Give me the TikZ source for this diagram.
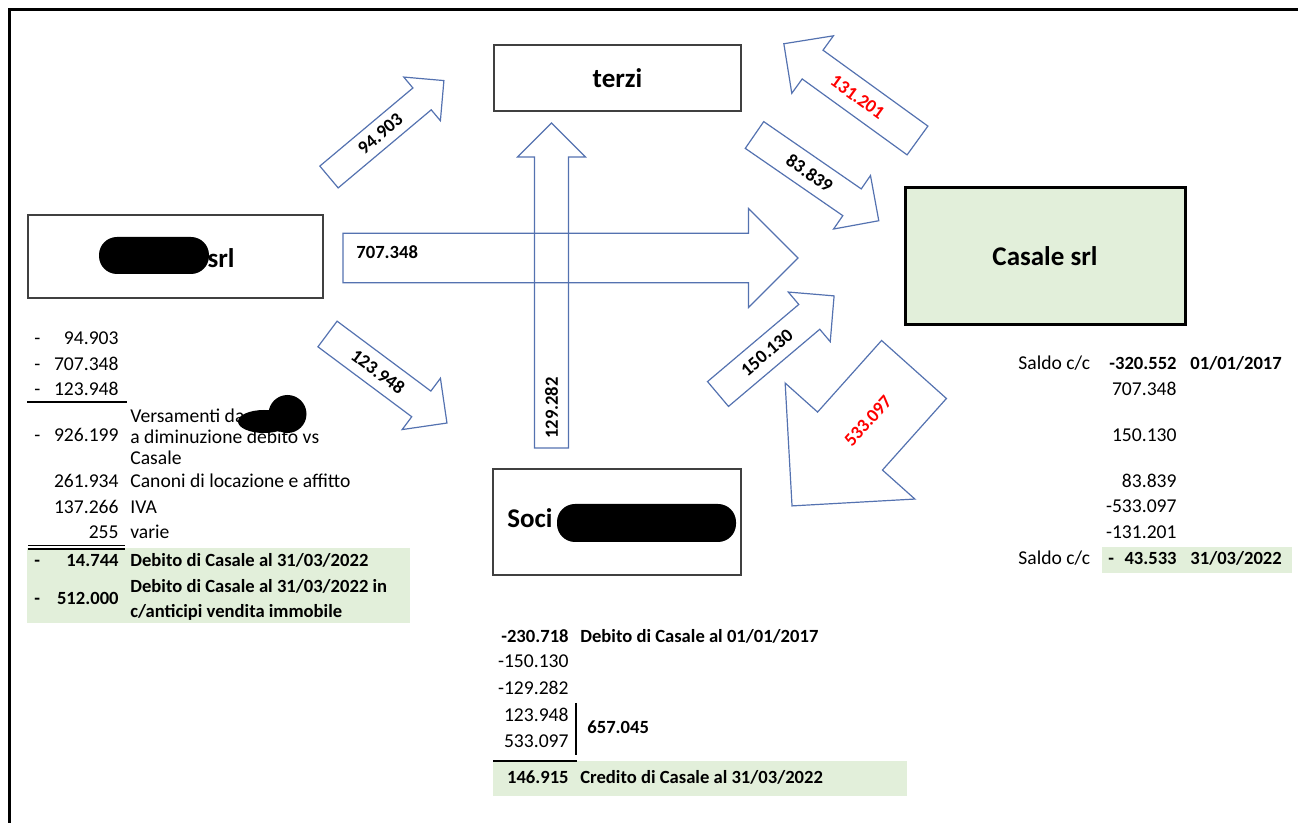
\documentclass[tikz,border=0pt]{standalone}
\usepackage{fontspec}
\setmainfont{Carlito}
\usetikzlibrary{positioning}
\definecolor{arrowblue}{RGB}{84,114,176}
\definecolor{boxgray}{RGB}{64,64,64}
\definecolor{sumgreen}{RGB}{226,239,218}
\tikzset{
    entity/.style={draw=boxgray,line width=0.8pt,inner sep=0pt,font=\fontsize{13.5}{16}\selectfont\bfseries},
    flow/.style={draw=arrowblue,line width=0.6pt,line join=miter},
    flowlabel/.style={font=\fontsize{9.3}{11}\selectfont\bfseries,inner sep=0pt,transform shape},
    num/.style={anchor=mid east,inner sep=0pt,font=\fontsize{9.8}{11}\selectfont},
    txt/.style={anchor=mid west,inner sep=0pt,font=\fontsize{9.8}{11}\selectfont},
    bnum/.style={num,font=\fontsize{9.3}{11}\selectfont\bfseries},
    btxt/.style={txt,font=\fontsize{9.3}{11}\selectfont\bfseries},
    blob/.style={fill=black,rounded corners=9pt}
}
% block arrow: name, tail, angle, length, width, label at, label options, label
\newcommand{\flowarrow}[8]{%
    \begin{scope}[shift={#2},rotate=#3]
        \draw[flow] (0,-#5/4) -- (#4-#5/2,-#5/4) -- (#4-#5/2,-#5/2) -- (#4,0)
            -- (#4-#5/2,#5/2) -- (#4-#5/2,#5/4) -- (0,#5/4) -- cycle;
        \node[flowlabel,#7] (#1) at #6 {#8};
    \end{scope}}

\begin{document}
\begin{tikzpicture}[x=0.5pt,y=-0.5pt]
    \useasboundingbox (0,0) rectangle (1298,823);
    \draw[line width=1.5pt] (9,823) -- (9,10) -- (1298,10);

    % entities
    \node[entity,minimum width=147.5pt,minimum height=41.5pt] (srl) at (175.5,256.5) {};
    \fill[blob] (99,237) rectangle (209,274);
    \node[font=\fontsize{13.5}{16}\selectfont\bfseries,inner sep=0pt] (srlname) at (221,258) {srl};
    \node[entity,minimum width=123.5pt,minimum height=33pt] (terzi) at (617.5,78) {terzi};
    \node[entity,minimum width=124pt,minimum height=53pt] (soci) at (617,522) {};
    \node[font=\fontsize{13.5}{16}\selectfont\bfseries,inner sep=0pt,anchor=mid west] (sociname) at (507,523) {Soci};
    \fill[blob] (557,504) rectangle (736,542);
    \node[entity,draw=black,line width=1.5pt,fill=sumgreen,minimum width=140pt,minimum height=68.5pt] (casale) at (1045,256.5) {Casale srl};

    % flows
    \flowarrow{f94}{(329,177)}{40}{150}{57}{(67,0)}{}{94.903}
    \flowarrow{f123}{(327.5,334)}{-36.7}{149}{64}{(63,0)}{}{123.948}
    \flowarrow{f707}{(343,258)}{0}{455}{99}{(13,-6)}{anchor=west}{707.348}
    \flowarrow{f129}{(551.5,448)}{90}{325}{68}{(40,0)}{}{129.282}
    \flowarrow{f150}{(718,394)}{40.2}{152}{65}{(64,0)}{}{150.130}
    \flowarrow{f83}{(754.5,135)}{-34.6}{151}{65}{(67,0)}{}{83.839}
    \flowarrow{f131}{(917.5,140.5)}{144.1}{165}{71}{(74,0)}{rotate=180,text=red}{131.201}
    \flowarrow{f533}{(914,369.5)}{-131.8}{183}{174}{(69,0)}{rotate=180,text=red}{533.097}

    % left table
    \fill[sumgreen] (27,548) rectangle (410,623);
    \foreach \val/\y in {94.903/340,707.348/366,123.948/391}{
        \node[txt] (ld\y) at (34,\y) {-};
        \node[num] (lv\y) at (119,\y) {\val};
    }
    \draw[line width=0.6pt] (27,402) -- (127,402);
    \node[txt] (ld437) at (34,437) {-};
    \node[num] (lv437) at (119,437) {926.199};
    \node[txt,anchor=west,align=left,font=\fontsize{9.8}{10.5}\selectfont] (lt437) at (130,437)
        {Versamenti da\\a diminuzione debito vs\\Casale};
    \fill (264,421.5) ellipse [x radius=26,y radius=11.5];
    \fill (287.5,414) circle [radius=19];
    \node[num] (lv483) at (119,483) {261.934};
    \node[txt] (lt483) at (130,483) {Canoni di locazione e affitto};
    \node[num] (lv509) at (119,509) {137.266};
    \node[txt] (lt509) at (130,509) {IVA};
    \node[num] (lv534) at (119,534) {255};
    \node[txt] (lt534) at (130,534) {varie};
    \draw[line width=0.6pt] (28,545.5) -- (125,545.5) (28,549) -- (125,549);
    \node[btxt] (ld562) at (34,562) {-};
    \node[bnum] (lv562) at (119,562) {14.744};
    \node[btxt] (lt562) at (130,562) {Debito di Casale al 31/03/2022};
    \node[btxt] (ld600) at (34,600) {-};
    \node[bnum] (lv600) at (119,600) {512.000};
    \node[btxt,anchor=west,align=left,font=\fontsize{9.3}{12.5}\selectfont\bfseries] (lt600) at (130,600)
        {Debito di Casale al 31/03/2022 in\\c/anticipi vendita immobile};

    % soci table
    \fill[sumgreen] (493,761) rectangle (907,796);
    \node[bnum] (sv638) at (569,638) {-230.718};
    \node[btxt] (st638) at (580,638) {Debito di Casale al 01/01/2017};
    \foreach \val/\y in {-150.130/663,-129.282/690,123.948/717,533.097/743}{
        \node[num] (sv\y) at (569,\y) {\val};
    }
    \draw[line width=0.6pt] (576,703) -- (576,755);
    \node[btxt] (st729) at (587,729) {657.045};
    \draw[line width=0.6pt] (493,761) -- (577,761);
    \node[bnum] (sv779) at (569,779) {146.915};
    \node[btxt] (st779) at (580,779) {Credito di Casale al 31/03/2022};

    % casale table
    \fill[sumgreen] (1102,547) rectangle (1292,573);
    \node[txt] (cs365) at (1018,365) {Saldo c/c};
    \node[bnum] (cv365) at (1177,365) {-320.552};
    \node[btxt] (cd365) at (1190,365) {01/01/2017};
    \foreach \val/\y in {707.348/391,150.130/437,83.839/483,-533.097/508,-131.201/534}{
        \node[num] (cv\y) at (1177,\y) {\val};
    }
    \node[txt] (cs560) at (1018,560) {Saldo c/c};
    \node[btxt] (cm560) at (1108,560) {-};
    \node[bnum] (cv560) at (1177,560) {43.533};
    \node[btxt] (cd560) at (1190,560) {31/03/2022};
\end{tikzpicture}
\end{document}
